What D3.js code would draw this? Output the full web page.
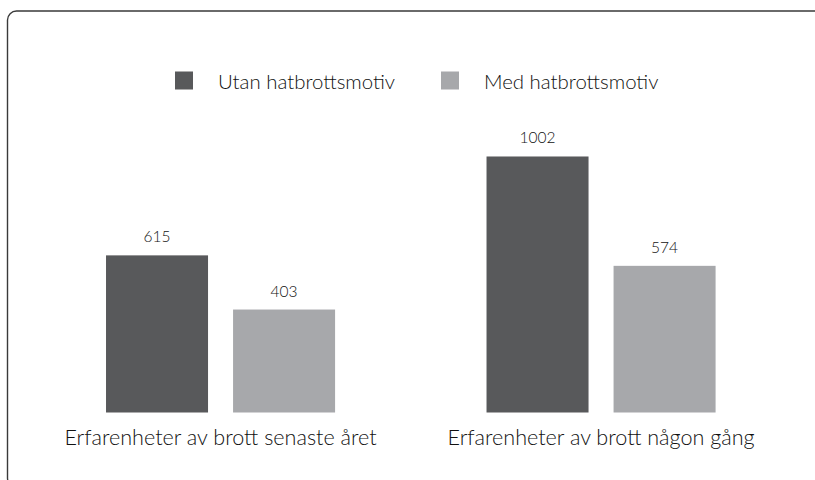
<!DOCTYPE html>
<html>
<head>
<meta charset="utf-8">
<script src="https://cdn.jsdelivr.net/npm/d3@7"></script>
<style>
  body { margin: 0; background: #fff; }
  svg { display: block; font-family: Lato, "Open Sans", sans-serif; font-weight: 300; }
</style>
</head>
<body>
<svg width="815" height="480"></svg>
<script>
const categories = ["Erfarenheter av brott senaste året", "Erfarenheter av brott någon gång"];
const series = ["Utan hatbrottsmotiv", "Med hatbrottsmotiv"];
const utan = [615, 1002];
const med = [403, 574];

const colors = d3.scaleOrdinal().domain(series).range(["#58595b", "#a7a8ab"]);
const textColor = "#111";

const svg = d3.select("svg");

// frame, only top and left edges show inside the picture
svg.append("rect")
  .attr("x", 7.5).attr("y", 11)
  .attr("width", 840).attr("height", 476)
  .attr("rx", 9).attr("ry", 9)
  .attr("fill", "none")
  .attr("stroke", "#3a3a3a")
  .attr("stroke-width", 1.4);

const x0 = d3.scaleBand().domain(categories).range([30.3, 791.3]).paddingInner(0.398).paddingOuter(0.199);
const x1 = d3.scaleBand().domain(series).range([0, x0.bandwidth()]).paddingInner(0.197);
const y = d3.scaleLinear().domain([0, 1000]).range([412.5, 157]);

const rows = categories.map((c, i) => ({
  cat: c,
  vals: [{ s: series[0], v: utan[i] }, { s: series[1], v: med[i] }]
}));

const groups = svg.selectAll("g.grp")
  .data(rows)
  .enter().append("g")
  .classed("grp", true)
  .attr("transform", d => `translate(${x0(d.cat)},0)`);

groups.selectAll("rect")
  .data(d => d.vals)
  .enter().append("rect")
  .attr("x", d => x1(d.s))
  .attr("y", d => y(d.v))
  .attr("width", x1.bandwidth())
  .attr("height", d => y(0) - y(d.v))
  .attr("fill", d => colors(d.s));

groups.selectAll("text.val")
  .data(d => d.vals)
  .enter().append("text")
  .classed("val", true)
  .attr("x", d => x1(d.s) + x1.bandwidth() / 2)
  .attr("y", d => y(d.v) - 13)
  .attr("text-anchor", "middle")
  .attr("font-size", 15.5)
  .attr("fill", textColor)
  .text(d => d.v);

// category labels under the bars
svg.selectAll("text.cat")
  .data(categories)
  .enter().append("text")
  .classed("cat", true)
  .attr("x", d => x0(d) + x0.bandwidth() / 2)
  .attr("y", 444.5)
  .attr("text-anchor", "middle")
  .attr("font-size", 21.6)
  .attr("fill", textColor)
  .text(d => d);

// legend
const legendX = [175, 441];
const legend = svg.selectAll("g.leg")
  .data(series)
  .enter().append("g")
  .classed("leg", true)
  .attr("transform", (d, i) => `translate(${legendX[i]},71.5)`);

legend.append("rect")
  .attr("width", 18).attr("height", 18)
  .attr("fill", d => colors(d));

legend.append("text")
  .attr("x", 43)
  .attr("y", 17)
  .attr("font-size", 20.4)
  .attr("fill", textColor)
  .text(d => d);
</script>
</body>
</html>
